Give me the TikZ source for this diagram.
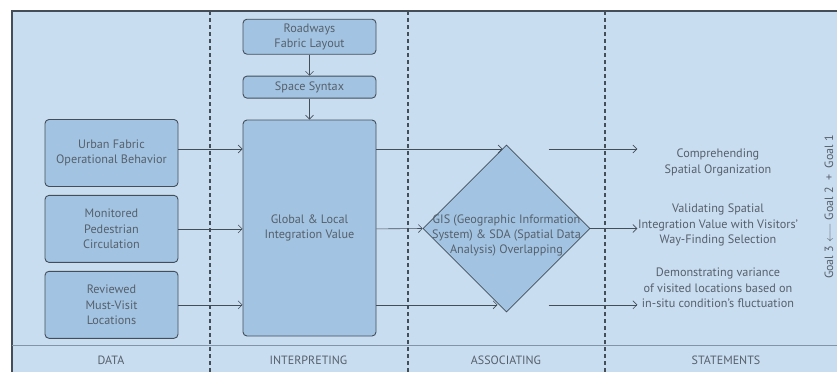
\documentclass[tikz,border=0pt]{standalone}
\usepackage{fontspec}
\setmainfont{PT Sans}
\usetikzlibrary{arrows.meta,positioning,calc,shapes.geometric}
\definecolor{panelblue}{HTML}{C9DDF1}
\definecolor{boxblue}{HTML}{A2C4E2}
\definecolor{edgegray}{HTML}{434E59}
\definecolor{textgray}{HTML}{56606B}
\definecolor{rulegray}{HTML}{8295A8}
\tikzset{
  stepbox/.style={draw=edgegray,fill=boxblue,rounded corners=4pt,line width=0.9pt,align=center,
    text=textgray,font=\fontsize{12.2}{15.3}\selectfont,inner sep=0pt,minimum width=133pt},
  gisdiamond/.style={diamond,draw=edgegray,fill=boxblue,line width=0.6pt,aspect=1,
    minimum width=167pt,minimum height=167pt,inner sep=0pt},
  flowarrow/.style={-{Straight Barb[length=4pt,width=8pt]},draw=edgegray,line width=0.6pt},
  lanerule/.style={draw=edgegray,line width=1.2pt,dash pattern=on 4pt off 3pt},
  statetext/.style={text=textgray,align=center,font=\fontsize{12.2}{15.3}\selectfont},
  lanelabel/.style={text=textgray,font=\fontsize{12}{13}\selectfont}
}

\begin{document}
\begin{tikzpicture}[x=1pt,y=-1pt]
  \useasboundingbox (0,0) rectangle (837,372);
  % lanes and frame
  \fill[panelblue] (12,11) rectangle (837,372);
  \draw[edgegray,line width=1.5pt] (12,372) -- (12,11) -- (837,11);
  \draw[rulegray,line width=1pt] (12,345) -- (837,345);
  \foreach \lx in {210,408,605}
    \draw[lanerule] (\lx,11) -- (\lx,372);
  \node[lanelabel] (ldata) at (111,360) {DATA};
  \node[lanelabel] (linterp) at (308.5,360) {INTERPRETING};
  \node[lanelabel] (lassoc) at (506,360) {ASSOCIATING};
  \node[lanelabel] (lstate) at (726,360) {STATEMENTS};

  % data column
  \node[stepbox,minimum height=67pt] (urban) at (111.5,153) {Urban Fabric\\Operational Behavior};
  \node[stepbox,minimum height=67pt,below=8pt of urban] (monitor) {Monitored\\Pedestrian\\Circulation};
  \node[stepbox,minimum height=67pt,below=8pt of monitor] (review) {Reviewed\\Must-Visit\\Locations};

  % interpreting column
  \node[stepbox,minimum height=216pt] (glob) at (309.5,228) {Global \& Local\\Integration Value};
  \node[stepbox,minimum height=22pt,above=21pt of glob] (syntax) {Space Syntax};
  \node[stepbox,minimum height=35pt,above=21pt of syntax] (roads) {Roadways\\Fabric Layout};

  % associating column
  \node[gisdiamond] (gis) at (506.5,228.5) {};
  \node[statetext] (gistext) at ($(gis.center)+(0,7)$)
    {GIS (Geographic Information\\System) \& SDA (Spatial Data\\Analysis) Overlapping};

  % statements
  \node[statetext] (st1) at (718,162.5) {Comprehending\\Spatial Organization};
  \node[statetext] (st2) at (718,225) {Validating Spatial\\Integration Value with Visitors'\\Way-Finding Selection};
  \node[statetext] (st3) at (718,288) {Demonstrating variance\\of visited locations based on\\in-situ condition’s fluctuation};
  \node[lanelabel,rotate=90] (goals) at (829,207) {Goal 3 $\longleftarrow$ Goal 2 \ + \ Goal 1};

  % connectors
  \coordinate (row1) at ($(urban.east)+(0,-4)$);
  \coordinate (outedge) at ($(gis.east)+(47,0)$);
  \draw[flowarrow] (roads) -- (syntax);
  \draw[flowarrow] (syntax) -- (glob);
  \draw[flowarrow] (row1) -- (row1 -| glob.west);
  \draw[flowarrow] (monitor.east) -- (monitor.east -| glob.west);
  \draw[flowarrow] (review.east) -- (review.east -| glob.west);
  \draw[flowarrow] (row1 -| glob.east) -- ($(row1 -| gis.north)+(-4,0)$);
  \draw[flowarrow] (monitor.east -| glob.east) -- (gis.west);
  \draw[flowarrow] (review.east -| glob.east) -- ($(review.east -| gis.south)+(-9,0)$);
  \draw[flowarrow] ($(row1 -| gis.north)+(42,0)$) -- (row1 -| outedge);
  \draw[flowarrow] (gis.east) -- (outedge);
  \draw[flowarrow] ($(review.east -| gis.south)+(42,0)$) -- (review.east -| outedge);
\end{tikzpicture}
\end{document}
